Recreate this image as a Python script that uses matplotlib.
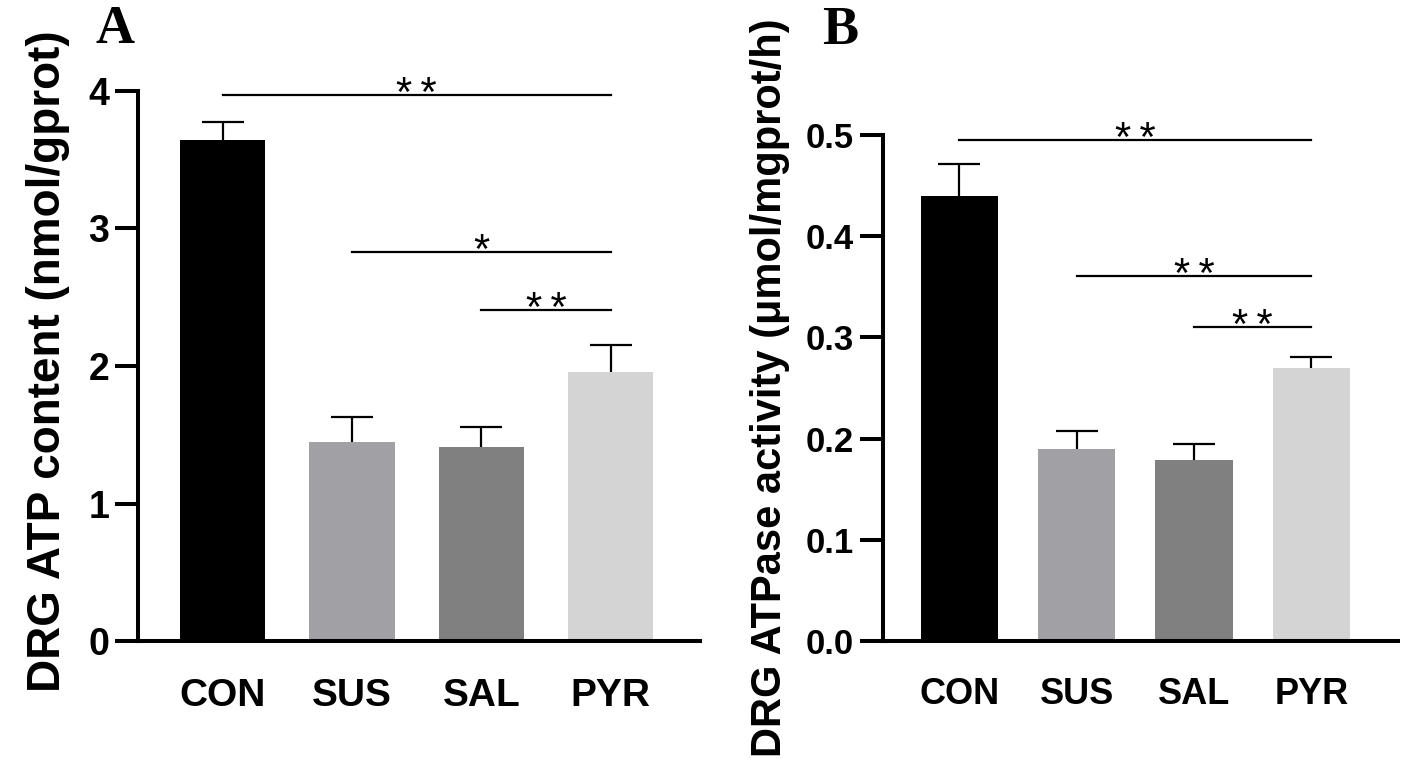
import matplotlib
matplotlib.use("Agg")
import matplotlib.pyplot as plt

plt.rcParams['font.family'] = ['Liberation Sans', 'DejaVu Sans']

# groups and colours
groups = ['CON', 'SUS', 'SAL', 'PYR']
bar_colors = ['#000000', '#a1a1a5', '#808080', '#d4d4d4']

# A: ATP content
atp_mean = [3.64, 1.45, 1.41, 1.96]
atp_err = [0.13, 0.18, 0.15, 0.19]
atp_sig = [(0, 3, 3.97, '**'), (1, 3, 2.83, '*'), (2, 3, 2.41, '**')]

# B: ATPase activity
ase_mean = [0.440, 0.190, 0.179, 0.270]
ase_err = [0.031, 0.018, 0.016, 0.011]
ase_sig = [(0, 3, 0.495, '**'), (1, 3, 0.361, '**'), (2, 3, 0.310, '**')]


def draw_panel(ax, means, errs, sig, ylim, ymax, yticks, ticklabels, xlim,
               ylabel, lab_xy, fs_tick, fs_lab):
    x = list(range(len(groups)))
    ax.bar(x, means, width=0.66, color=bar_colors, zorder=2)
    eb = ax.errorbar(x, means, yerr=[[0] * len(errs), errs], fmt='none',
                     ecolor='black', elinewidth=1.6, capsize=15,
                     capthick=1.6, zorder=3)
    eb[1][0].set_visible(False)  # only the upper cap

    for i, j, y, s in sig:
        ax.plot([i, j], [y, y], color='black', lw=1.6, clip_on=False)
        ax.annotate('\u2009'.join(s), xy=((i + j) / 2, y), xytext=(0, -8),
                    textcoords='offset points', ha='center', va='baseline',
                    fontsize=30, annotation_clip=False)

    ax.set_xlim(*xlim)
    ax.set_ylim(*ylim)
    ax.set_yticks(yticks)
    ax.set_yticklabels(ticklabels)
    ax.set_xticks(x)
    ax.set_xticklabels(groups)
    for sp in ['top', 'right']:
        ax.spines[sp].set_visible(False)
    for sp in ['left', 'bottom']:
        ax.spines[sp].set_linewidth(2.9)
    ax.spines['left'].set_bounds(0, ymax)
    ax.tick_params(axis='y', length=16.5, width=2.9, pad=4,
                   labelsize=fs_tick)
    ax.tick_params(axis='x', length=0, pad=26, labelsize=fs_tick + 1)
    for t in ax.get_xticklabels() + ax.get_yticklabels():
        t.set_fontweight('bold')

    ax.set_ylabel(ylabel, fontsize=fs_lab, fontweight='bold')
    ax.yaxis.label.set(rotation_mode='default', va='center', ha='center')
    ax.yaxis.set_label_coords(*lab_xy, transform=fig.transFigure)


fig = plt.figure(figsize=(14.17, 7.77), dpi=100)
axA = fig.add_axes([0.0972, 0.1744, 0.3968, 0.7443])
axB = fig.add_axes([0.6229, 0.1750, 0.3637, 0.7163])

draw_panel(axA, atp_mean, atp_err, atp_sig, (0, 4.2), 4,
           [0, 1, 2, 3, 4], ['0', '1', '2', '3', '4'], (-0.656, 3.69),
           'DRG ATP content (nmol/gprot)', (48 / 1417, 1 - 361.5 / 777),
           27, 33)
draw_panel(axB, ase_mean, ase_err, ase_sig, (0, 0.55), 0.5,
           [0, 0.1, 0.2, 0.3, 0.4, 0.5],
           ['0.0', '0.1', '0.2', '0.3', '0.4', '0.5'], (-0.655, 3.74),
           'DRG ATPase activity (μmol/mgprot/h)', (770 / 1417, 1 - 387.5 / 777),
           25, 30)

# panel letters
fig.text(95 / 1417, 1 - 43 / 777, 'A', family='Liberation Serif',
         fontweight='bold', fontsize=39, va='baseline', ha='left')
fig.text(822 / 1417, 1 - 44 / 777, 'B', family='Liberation Serif',
         fontweight='bold', fontsize=39, va='baseline', ha='left')

fig.savefig('out.png', dpi=100)
